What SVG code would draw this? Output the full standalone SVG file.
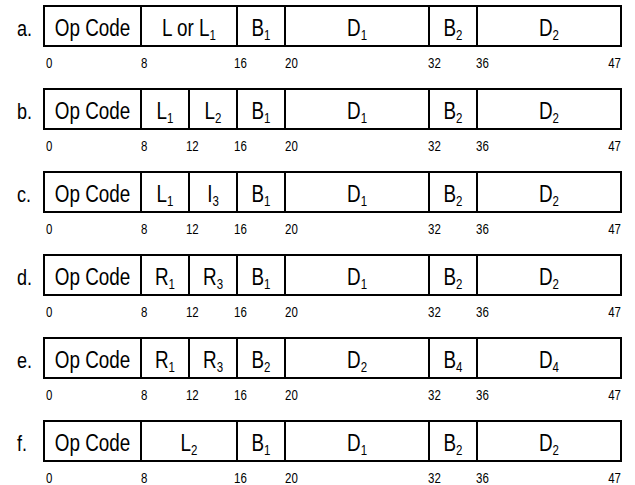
<svg xmlns="http://www.w3.org/2000/svg" width="635" height="485" viewBox="0 0 635 485">
<style>
.box{fill:#fff;stroke:#000;stroke-width:2}
.div{stroke:#000;stroke-width:2}
.t{font-family:"Liberation Sans",Arial,sans-serif;font-size:23px;fill:#000;text-anchor:middle}
.lab{font-family:"Liberation Sans",Arial,sans-serif;font-size:22px;fill:#000}
.n{font-family:"Liberation Sans",Arial,sans-serif;font-size:14px;fill:#000}
.s{font-size:14px}
</style>
<defs>
<g id="frame4">
<rect class="box" x="44" y="0" width="577" height="40"/>
<line class="div" x1="141" y1="0" x2="141" y2="40"/>
<line class="div" x1="237" y1="0" x2="237" y2="40"/>
<line class="div" x1="285" y1="0" x2="285" y2="40"/>
<line class="div" x1="429" y1="0" x2="429" y2="40"/>
<line class="div" x1="477" y1="0" x2="477" y2="40"/>
</g>
</defs>
<g id="row-a">
<use href="#frame4" y="6"/>
<g transform="scale(0.82 1)">
<text class="lab" x="20.7" y="36">a.</text>
<text class="t" x="112.8" y="36">Op Code</text>
<text class="t" x="230.5" y="36">L or L<tspan class="s" dy="4">1</tspan></text>
<text class="t" x="318.3" y="36">B<tspan class="s" dy="4">1</tspan></text>
<text class="t" x="435.4" y="36">D<tspan class="s" dy="4">1</tspan></text>
<text class="t" x="552.4" y="36">B<tspan class="s" dy="4">2</tspan></text>
<text class="t" x="669.5" y="36">D<tspan class="s" dy="4">2</tspan></text>
<text class="n" x="56.1" y="68">0</text><text class="n" x="172" y="68">8</text><text class="n" x="285.4" y="68">16</text><text class="n" x="347.6" y="68">20</text><text class="n" x="522" y="68">32</text><text class="n" x="580.5" y="68">36</text><text class="n" x="757.3" y="68" text-anchor="end">47</text>
</g>
</g>
<g id="row-b">
<use href="#frame4" y="89"/>
<line class="div" x1="189" y1="89" x2="189" y2="129"/>
<g transform="scale(0.82 1)">
<text class="lab" x="20.7" y="119">b.</text>
<text class="t" x="112.8" y="119">Op Code</text>
<text class="t" x="201.2" y="119">L<tspan class="s" dy="4">1</tspan></text>
<text class="t" x="259.8" y="119">L<tspan class="s" dy="4">2</tspan></text>
<text class="t" x="318.3" y="119">B<tspan class="s" dy="4">1</tspan></text>
<text class="t" x="435.4" y="119">D<tspan class="s" dy="4">1</tspan></text>
<text class="t" x="552.4" y="119">B<tspan class="s" dy="4">2</tspan></text>
<text class="t" x="669.5" y="119">D<tspan class="s" dy="4">2</tspan></text>
<text class="n" x="56.1" y="151">0</text><text class="n" x="172" y="151">8</text><text class="n" x="226.8" y="151">12</text><text class="n" x="285.4" y="151">16</text><text class="n" x="347.6" y="151">20</text><text class="n" x="522" y="151">32</text><text class="n" x="580.5" y="151">36</text><text class="n" x="757.3" y="151" text-anchor="end">47</text>
</g>
</g>
<g id="row-c">
<use href="#frame4" y="172"/>
<line class="div" x1="189" y1="172" x2="189" y2="212"/>
<g transform="scale(0.82 1)">
<text class="lab" x="20.7" y="202">c.</text>
<text class="t" x="112.8" y="202">Op Code</text>
<text class="t" x="201.2" y="202">L<tspan class="s" dy="4">1</tspan></text>
<text class="t" x="259.8" y="202">I<tspan class="s" dy="4">3</tspan></text>
<text class="t" x="318.3" y="202">B<tspan class="s" dy="4">1</tspan></text>
<text class="t" x="435.4" y="202">D<tspan class="s" dy="4">1</tspan></text>
<text class="t" x="552.4" y="202">B<tspan class="s" dy="4">2</tspan></text>
<text class="t" x="669.5" y="202">D<tspan class="s" dy="4">2</tspan></text>
<text class="n" x="56.1" y="234">0</text><text class="n" x="172" y="234">8</text><text class="n" x="226.8" y="234">12</text><text class="n" x="285.4" y="234">16</text><text class="n" x="347.6" y="234">20</text><text class="n" x="522" y="234">32</text><text class="n" x="580.5" y="234">36</text><text class="n" x="757.3" y="234" text-anchor="end">47</text>
</g>
</g>
<g id="row-d">
<use href="#frame4" y="255"/>
<line class="div" x1="189" y1="255" x2="189" y2="295"/>
<g transform="scale(0.82 1)">
<text class="lab" x="20.7" y="285">d.</text>
<text class="t" x="112.8" y="285">Op Code</text>
<text class="t" x="201.2" y="285">R<tspan class="s" dy="4">1</tspan></text>
<text class="t" x="259.8" y="285">R<tspan class="s" dy="4">3</tspan></text>
<text class="t" x="318.3" y="285">B<tspan class="s" dy="4">1</tspan></text>
<text class="t" x="435.4" y="285">D<tspan class="s" dy="4">1</tspan></text>
<text class="t" x="552.4" y="285">B<tspan class="s" dy="4">2</tspan></text>
<text class="t" x="669.5" y="285">D<tspan class="s" dy="4">2</tspan></text>
<text class="n" x="56.1" y="317">0</text><text class="n" x="172" y="317">8</text><text class="n" x="226.8" y="317">12</text><text class="n" x="285.4" y="317">16</text><text class="n" x="347.6" y="317">20</text><text class="n" x="522" y="317">32</text><text class="n" x="580.5" y="317">36</text><text class="n" x="757.3" y="317" text-anchor="end">47</text>
</g>
</g>
<g id="row-e">
<use href="#frame4" y="338"/>
<line class="div" x1="189" y1="338" x2="189" y2="378"/>
<g transform="scale(0.82 1)">
<text class="lab" x="20.7" y="368">e.</text>
<text class="t" x="112.8" y="368">Op Code</text>
<text class="t" x="201.2" y="368">R<tspan class="s" dy="4">1</tspan></text>
<text class="t" x="259.8" y="368">R<tspan class="s" dy="4">3</tspan></text>
<text class="t" x="318.3" y="368">B<tspan class="s" dy="4">2</tspan></text>
<text class="t" x="435.4" y="368">D<tspan class="s" dy="4">2</tspan></text>
<text class="t" x="552.4" y="368">B<tspan class="s" dy="4">4</tspan></text>
<text class="t" x="669.5" y="368">D<tspan class="s" dy="4">4</tspan></text>
<text class="n" x="56.1" y="400">0</text><text class="n" x="172" y="400">8</text><text class="n" x="226.8" y="400">12</text><text class="n" x="285.4" y="400">16</text><text class="n" x="347.6" y="400">20</text><text class="n" x="522" y="400">32</text><text class="n" x="580.5" y="400">36</text><text class="n" x="757.3" y="400" text-anchor="end">47</text>
</g>
</g>
<g id="row-f">
<use href="#frame4" y="421"/>
<g transform="scale(0.82 1)">
<text class="lab" x="20.7" y="451">f.</text>
<text class="t" x="112.8" y="451">Op Code</text>
<text class="t" x="230.5" y="451">L<tspan class="s" dy="4">2</tspan></text>
<text class="t" x="318.3" y="451">B<tspan class="s" dy="4">1</tspan></text>
<text class="t" x="435.4" y="451">D<tspan class="s" dy="4">1</tspan></text>
<text class="t" x="552.4" y="451">B<tspan class="s" dy="4">2</tspan></text>
<text class="t" x="669.5" y="451">D<tspan class="s" dy="4">2</tspan></text>
<text class="n" x="56.1" y="483">0</text><text class="n" x="172" y="483">8</text><text class="n" x="285.4" y="483">16</text><text class="n" x="347.6" y="483">20</text><text class="n" x="522" y="483">32</text><text class="n" x="580.5" y="483">36</text><text class="n" x="757.3" y="483" text-anchor="end">47</text>
</g>
</g>
</svg>
